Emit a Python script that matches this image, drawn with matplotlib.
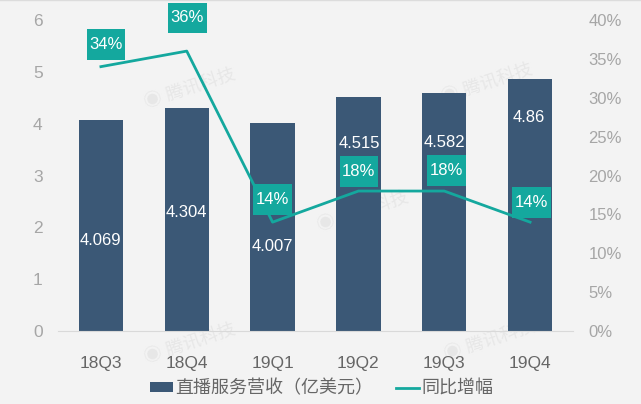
import matplotlib
matplotlib.use("Agg")
import matplotlib.pyplot as plt
from matplotlib.patches import Rectangle
import numpy as np

plt.rcParams['font.family'] = ['Liberation Sans', 'Noto Sans CJK SC', 'DejaVu Sans']

quarters = ["18Q3", "18Q4", "19Q1", "19Q2", "19Q3", "19Q4"]
revenue = [4.069, 4.304, 4.007, 4.515, 4.582, 4.86]
revenue_labels = ["4.069", "4.304", "4.007", "4.515", "4.582", "4.86"]
growth = [34, 36, 14, 18, 18, 14]
growth_labels = ["34%", "36%", "14%", "18%", "18%", "14%"]
# where the labels sit
revenue_label_y = [1.755, 2.28, 1.626, 3.62, 3.63, 4.115]
revenue_label_dx = [0.0, 0.0, 0.0, 0.015, 0.0, -0.015]
growth_label_y = [36.85, 40.26, 16.9, 20.5, 20.6, 16.5]
growth_label_dx = [0.058, 0.006, 0.0, 0.006, 0.023, 0.017]
BAR = "#3b5876"
TEAL = "#14a89e"
BG = "#f3f3f3"
DARK = "#666666"
LIGHT = "#a6a6a6"
WATERMARK = "#e7e7e7"

fig = plt.figure(figsize=(6.41, 4.04), dpi=100, facecolor=BG)
ax = fig.add_axes([58 / 641, 1 - 331 / 404, (573 - 58) / 641, (331 - 20) / 404])
ax.set_facecolor("none")
x = np.arange(len(quarters))
ax.bar(x, revenue, width=0.515, color=BAR, label="直播服务营收（亿美元）")
ax.set_xlim(-0.5, 5.5)
ax.set_ylim(0, 6)
ax.set_xticks(x, quarters)
ax.tick_params(axis="y", length=0, labelcolor=LIGHT, labelsize=12.5, pad=11)
ax.tick_params(axis="x", length=0, labelcolor=DARK, labelsize=12.5, pad=18)
for s in ["top", "left", "right"]:
    ax.spines[s].set_visible(False)
ax.spines["bottom"].set_color("#d9d9d9")

ax2 = ax.twinx()
ax2.plot(x, growth, color=TEAL, lw=2, label="同比增幅")
ax2.set_ylim(0, 40)
ax2.set_yticks(range(0, 41, 5), [f"{v}%" for v in range(0, 41, 5)])
ax2.tick_params(axis="y", length=0, labelcolor=LIGHT, labelsize=12, pad=11)
for s in ax2.spines.values():
    s.set_visible(False)

for xi, dx, ly, t in zip(x, revenue_label_dx, revenue_label_y, revenue_labels):
    ax.text(xi + dx, ly, t, color="white", ha="center", va="center", fontsize=12)
box_w, box_h = 0.45, 3.95
for xi, dx, ly, t in zip(x, growth_label_dx, growth_label_y, growth_labels):
    ax2.add_patch(Rectangle((xi + dx - box_w / 2, ly - box_h / 2), box_w, box_h,
                            fc=TEAL, ec="none", zorder=4, clip_on=False))
    ax2.text(xi + dx, ly, t, color="white", ha="center", va="center", fontsize=12, zorder=5)

# faint watermarks, behind the bars
for wx, wy in [(190, 90), (190, 345), (363, 213), (487, 85), (490, 342)]:
    fig.text(wx / 641, 1 - wy / 404, "◉ 腾讯科技", color=WATERMARK, fontsize=13, rotation=18,
             ha="center", va="center", zorder=-1)

fig.add_artist(plt.Line2D([0, 1], [0.999, 0.999], color="#dcdcdc", lw=1))

h1, l1 = ax.get_legend_handles_labels()
h2, l2 = ax2.get_legend_handles_labels()
fig.legend(h1 + h2, l1 + l2, loc="lower center", bbox_to_anchor=(0.5016, -0.024), ncol=2, frameon=False,
           fontsize=13, labelcolor=DARK, columnspacing=1.25, handletextpad=0.12, handlelength=1.28,
           handleheight=0.45)
fig.savefig("out.png", dpi=100, facecolor=BG)
